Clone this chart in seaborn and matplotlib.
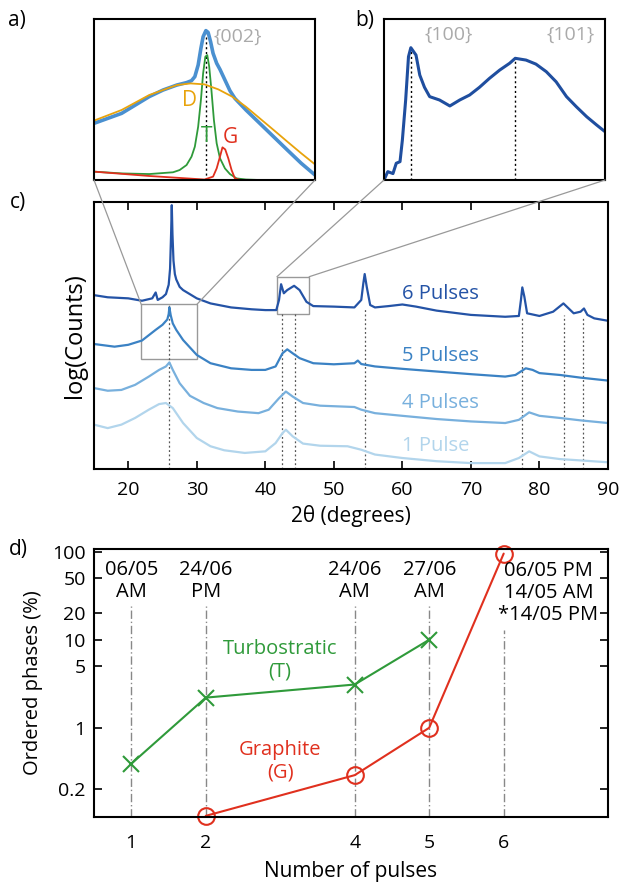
import pandas as pd
import seaborn as sns
import matplotlib.pyplot as plt
from matplotlib.patches import Rectangle, ConnectionPatch
from matplotlib.ticker import NullLocator, FixedLocator

# ==========================================================
# DATA
# ==========================================================

# c) XRD patterns, y in arbitrary offset log units (0..100)
p6_x = [15, 17, 20, 22, 23.5, 24, 24.3, 25, 25.5, 25.9, 26.1, 26.25, 26.35, 26.45, 26.6, 26.8,
        27, 27.5, 28, 30, 32, 35, 38, 40, 41.6, 42, 42.3, 42.7, 43.2, 44.2, 45, 46, 47, 50,
        53, 54, 54.3, 54.5, 54.8, 55.3, 56, 58, 60, 62, 65, 70, 75, 77, 77.3, 77.5, 77.8,
        78.2, 80, 82, 83.5, 85, 86, 86.5, 87, 88, 90]
p6_y = [65.1, 64.3, 63.9, 63.0, 63.9, 66.1, 63.3, 64.3, 65.5, 69.0, 75.0, 88.0, 98.8, 88.0,
        78.0, 73.0, 71.0, 68.2, 67.0, 63.9, 62.0, 60.5, 59.8, 59.5, 59.5, 63.3, 69.2, 65.8,
        67.0, 68.6, 67.0, 62.6, 61.0, 60.8, 60.5, 63.3, 69.5, 73.0, 68.2, 61.4, 60.5, 61.0,
        61.6, 60.8, 59.3, 57.7, 57.0, 57.3, 63.3, 68.0, 64.5, 58.3, 57.3, 58.9, 62.0, 58.3,
        58.9, 60.1, 57.7, 56.4, 55.5]

p5_x = [15, 18, 20, 22, 24, 25, 25.7, 25.9, 26, 26.2, 26.5, 27, 28, 30, 32, 35, 38, 40, 41.5,
        42.5, 43.2, 44, 45, 47, 50, 53, 53.5, 54, 56, 60, 65, 70, 75, 76.5, 78, 79, 80, 83,
        86, 90]
p5_y = [46.8, 45.8, 46.5, 48.1, 52.1, 54.0, 56.0, 58.0, 60.5, 57.5, 54.5, 52.1, 48.3, 42.7,
        39.6, 37.7, 37.1, 37.1, 38.4, 43.3, 44.8, 43.3, 41.5, 39.6, 39.2, 39.6, 40.6, 39.3,
        38.4, 37.5, 36.5, 35.5, 34.6, 35.2, 37.7, 37.1, 35.9, 35.2, 34.2, 33.1]

p4_x = [15, 17, 19, 21, 23, 24.5, 25.5, 26, 26.5, 27.5, 29, 31, 33, 36, 39, 40.5, 42, 43, 44,
        45.5, 48, 51, 53, 54, 56, 60, 65, 70, 75, 77, 78.5, 80, 83, 86, 90]
p4_y = [30.3, 29.3, 29.6, 31.5, 34.6, 37.1, 38.4, 39.9, 37.1, 32.1, 27.4, 24.7, 22.8, 21.5,
        20.9, 22.2, 26.5, 29.0, 27.1, 24.7, 23.7, 23.4, 23.2, 22.2, 20.9, 19.9, 18.7, 17.8,
        17.2, 18.4, 21.2, 19.9, 19.1, 18.2, 17.2]

p1_x = [15, 17, 19, 21, 23, 24.5, 25.5, 26.5, 28, 30, 32, 34, 37, 40, 41.5, 42.5, 43, 44, 45.5,
        48, 52, 54, 56, 60, 65, 70, 75, 77, 78.5, 80, 83, 86, 90]
p1_y = [16.6, 15.3, 16.6, 19.1, 22.2, 24.3, 24.7, 22.8, 17.2, 11.6, 8.5, 7.0, 6.0, 6.6, 9.7,
        13.4, 14.7, 12.2, 9.5, 8.7, 8.5, 7.2, 5.4, 4.1, 2.9, 2.2, 2.2, 4.1, 6.6, 4.7, 3.7,
        3.2, 2.5]

pulse_names = ["6 Pulses", "5 Pulses", "4 Pulses", "1 Pulse"]
pulse_label_y = [65.5, 42.3, 24.7, 8.5]
peak_pos = [26.0, 42.4, 44.3, 54.5, 77.4, 83.6, 86.4]
peak_top = [62.0, 58.3, 58.3, 60.1, 57.0, 57.7, 57.0]

# a) zoom of {002} with fitted components
a_x = [22, 23, 24, 24.5, 25, 25.35, 25.53, 25.65, 25.77, 25.87, 25.95, 26.05, 26.13, 26.22,
       26.31, 26.44, 26.56, 26.74, 26.92, 27.1, 27.5, 28, 28.5, 29, 29.5, 30]
a_y = [35.2, 41.4, 51.8, 55.9, 59.0, 60.5, 61.7, 64.2, 71.4, 81.8, 89.0, 92.8, 91.7, 85.9,
       78.7, 72.5, 68.7, 62.1, 55.5, 50.7, 43.5, 35.2, 26.9, 18.6, 10.4, 3.1]
d_x = [22, 23, 24, 25, 25.5, 26, 26.5, 27, 27.5, 28, 28.5, 29, 29.5, 30]
d_y = [36.9, 43.5, 52.8, 59.0, 60.0, 59.4, 56.3, 51.8, 45.5, 38.3, 31.1, 23.8, 16.6, 9.7]
t_x = [22, 23, 24, 24.86, 25.1, 25.35, 25.53, 25.65, 25.77, 25.87, 25.95, 26.03, 26.1, 26.17,
       26.25, 26.34, 26.44, 26.56, 26.74, 26.92, 27.16, 27.5, 28, 30]
t_y = [5.2, 4.1, 3.7, 4.8, 6.2, 9.3, 14.5, 20.7, 33.1, 49.7, 66.3, 76.6, 77.6, 70.4, 55.9,
       37.3, 22.8, 13.5, 7.2, 3.7, 1.0, 0.3, 0, 0]
g_x = [22, 24, 26, 26.31, 26.44, 26.56, 26.65, 26.75, 26.86, 26.98, 27.1, 27.3, 30]
g_y = [5.2, 2.5, 0.3, 2.1, 7.2, 14.5, 20.3, 19.0, 13.5, 6.2, 1.0, 0, 0]

# b) zoom of {100} / {101}
b_x = [41.70, 41.78, 41.89, 41.96, 42.04, 42.09, 42.16, 42.22, 42.27, 42.38, 42.46, 42.56,
       42.67, 42.88, 43.10, 43.31, 43.52, 43.73, 43.94, 44.16, 44.37, 44.49, 44.72, 44.93,
       45.15, 45.36, 45.58, 45.79, 46.01, 46.22, 46.40]
b_y = [0, 5.2, 4.0, 10.4, 11.4, 24.8, 49.7, 76.6, 82.2, 77.6, 65.2, 57.6, 51.8, 49.7, 46.0,
       49.7, 52.8, 57.6, 63.1, 68.3, 72.5, 75.6, 74.5, 72.0, 67.3, 61.0, 51.8, 45.5, 39.3,
       34.2, 30.0]

# d) ordered phases
turbo_pulses = [1, 2, 4, 5]
turbo_pct = [0.39, 2.2, 3.1, 10]
graph_pulses = [2, 4, 5, 6]
graph_pct = [0.1, 0.29, 1.0, 95]
date_x = [1, 2, 4, 5, 6]
date_top = [24, 24, 24, 24, 13]
date_labels = ["06/05\nAM", "24/06\nPM", "24/06\nAM", "27/06\nAM"]
date_last = "06/05 PM\n14/05 AM\n*14/05 PM"

PULSE_COLORS = {"6 Pulses": "#2453a6", "5 Pulses": "#3b82c4",
                "4 Pulses": "#78b0dd", "1 Pulse": "#b2d5ec"}
GREEN = "#2f9a3a"
RED = "#e0301e"
ORANGE = "#e8a30c"
GREY_TXT = "#aaaaaa"

# ==========================================================
# STYLE
# ==========================================================
sns.set_theme(style="white")
plt.rcParams["font.family"] = ["Open Sans", "DejaVu Sans"]
plt.rcParams["axes.edgecolor"] = "black"
plt.rcParams["axes.linewidth"] = 1.5
for key in ["text.color", "axes.labelcolor", "xtick.color", "ytick.color"]:
    plt.rcParams[key] = "black"

fig = plt.figure(figsize=(6.2, 8.85), dpi=100)
ax_a = fig.add_axes([0.1516, 0.7966, 0.3565, 0.1819])
ax_b = fig.add_axes([0.6194, 0.7966, 0.3565, 0.1819])
ax_c = fig.add_axes([0.1516, 0.4701, 0.829, 0.3017])
ax_d = fig.add_axes([0.1516, 0.0768, 0.829, 0.3028])

# ── c) XRD patterns ───────────────────────────────────────────────────────────
xrd = pd.concat([
    pd.DataFrame({"two_theta": xs, "counts": ys, "sample": nm})
    for nm, xs, ys in zip(pulse_names, [p6_x, p5_x, p4_x, p1_x], [p6_y, p5_y, p4_y, p1_y])
])
ax_c.vlines(peak_pos, 0, peak_top, colors="#555555", linestyles=(0, (1.5, 2)), lw=0.9)
sns.lineplot(data=xrd, x="two_theta", y="counts", hue="sample", palette=PULSE_COLORS,
             estimator=None, sort=False, legend=False, lw=1.6, ax=ax_c)
for nm, yy in zip(pulse_names, pulse_label_y):
    ax_c.text(60, yy, nm, color=PULSE_COLORS[nm], fontsize=14.5, va="center", ha="left")

ax_c.add_patch(Rectangle((21.9, 41.2), 8.1, 20.4, fill=False, ec="#999999", lw=1))
ax_c.add_patch(Rectangle((41.7, 57.9), 4.7, 14.1, fill=False, ec="#999999", lw=1))

ax_c.set_xlim(15, 90)
ax_c.set_ylim(0, 100)
ax_c.set_xticks(range(20, 91, 10))
ax_c.set_yticks([])
ax_c.tick_params(axis="x", direction="in", top=True, bottom=True, length=6, width=1.2,
                 labelsize=14, pad=9)
ax_c.set_xlabel("2θ (degrees)", fontsize=15)
ax_c.set_ylabel("log(Counts)", fontsize=17)
ax_c.xaxis.set_label_coords(0.5, -0.135)
ax_c.yaxis.set_label_coords(-0.014, 0.5)

# ── a) {002} zoom ─────────────────────────────────────────────────────────────
ax_a.vlines(26.07, 0, 91, colors="black", linestyles=(0, (1.5, 2)), lw=1)
sns.lineplot(x=t_x, y=t_y, color=GREEN, lw=1.3, ax=ax_a)
sns.lineplot(x=g_x, y=g_y, color=RED, lw=1.3, ax=ax_a)
sns.lineplot(x=a_x, y=a_y, color="#4a90d0", lw=2.6, ax=ax_a)
sns.lineplot(x=d_x, y=d_y, color=ORANGE, lw=1.3, ax=ax_a)
ax_a.text(27.2, 89, "{002}", color=GREY_TXT, fontsize=14, ha="center", va="center")
ax_a.text(25.47, 49.5, "D", color=ORANGE, fontsize=15, ha="center", va="center")
ax_a.text(26.07, 26.9, "T", color=GREEN, fontsize=15, ha="center", va="center")
ax_a.text(26.92, 26.3, "G", color=RED, fontsize=15, ha="center", va="center")
ax_a.set_xlim(22, 30)
ax_a.set_ylim(0, 100)

# ── b) {100}/{101} zoom ───────────────────────────────────────────────────────
ax_b.vlines([42.27, 44.49], 0, [82, 75], colors="black", linestyles=(0, (1.5, 2)), lw=1)
sns.lineplot(x=b_x, y=b_y, color="#1f4e9f", lw=2.2, ax=ax_b)
ax_b.text(43.07, 90, "{100}", color=GREY_TXT, fontsize=14, ha="center", va="center")
ax_b.text(45.67, 90, "{101}", color=GREY_TXT, fontsize=14, ha="center", va="center")
ax_b.set_xlim(41.7, 46.4)
ax_b.set_ylim(0, 100)

for ax in (ax_a, ax_b):
    ax.set_xticks([])
    ax.set_yticks([])
    ax.set_xlabel("")
    ax.set_ylabel("")

# connector lines between the zoom boxes and the insets
for ax_from, xy_from, xy_to in [(ax_a, (0, 0), (21.9, 61.6)), (ax_a, (1, 0), (30.0, 61.6)),
                                (ax_b, (0, 0), (41.7, 72.0)), (ax_b, (1, 0), (46.4, 72.0))]:
    con = ConnectionPatch(xyA=xy_from, coordsA="axes fraction", axesA=ax_from,
                          xyB=xy_to, coordsB="data", axesB=ax_c, color="#999999", lw=0.9)
    fig.add_artist(con)

# ── d) ordered phases ─────────────────────────────────────────────────────────
ax_d.set_yscale("log")
ax_d.vlines(date_x, 0.097, date_top, colors="#888888", linestyles=(0, (6, 2, 1, 2)), lw=1)
sns.lineplot(x=turbo_pulses, y=turbo_pct, color=GREEN, lw=1.5, marker="x", markersize=12,
             markeredgecolor=GREEN, markeredgewidth=1.5, ax=ax_d, clip_on=False)
sns.lineplot(x=graph_pulses, y=graph_pct, color=RED, lw=1.5, marker="o", markersize=12,
             markerfacecolor="none", markeredgecolor=RED, markeredgewidth=1.5, ax=ax_d,
             clip_on=False)
for xx, lab in zip(date_x[:4], date_labels):
    ax_d.text(xx, 46, lab, fontsize=14.5, ha="center", va="center", linespacing=1.15)
ax_d.text(6.6, 34, date_last, fontsize=14.5, ha="center", va="center", linespacing=1.15)
ax_d.text(3.0, 5.9, "Turbostratic\n(T)", color=GREEN, fontsize=14.5, ha="center",
          va="center", linespacing=1.15)
ax_d.text(3.0, 0.413, "Graphite\n(G)", color=RED, fontsize=14.5, ha="center",
          va="center", linespacing=1.15)

ax_d.set_xlim(0.5, 7.4)
ax_d.set_ylim(0.097, 107)
ax_d.set_xticks(date_x)
ax_d.set_xticklabels([str(v) for v in date_x])
ax_d.yaxis.set_major_locator(FixedLocator([0.2, 1, 5, 10, 20, 50, 100]))
ax_d.set_yticklabels(["0.2", "1", "5", "10", "20", "50", "100"])
ax_d.yaxis.set_minor_locator(NullLocator())
ax_d.tick_params(axis="y", direction="in", left=True, right=True, length=6, width=1.2,
                 labelsize=14, pad=6)
ax_d.tick_params(axis="x", length=0, labelsize=14, pad=12)
ax_d.set_xlabel("Number of pulses", fontsize=15)
ax_d.set_ylabel("Ordered phases (%)", fontsize=14.5)
ax_d.xaxis.set_label_coords(0.5, -0.163)
ax_d.yaxis.set_label_coords(-0.1, 0.5)

for lab, xx, yy in [("a)", 0.027, 0.977), ("b)", 0.589, 0.977),
                    ("c)", 0.029, 0.771), ("d)", 0.029, 0.379)]:
    fig.text(xx, yy, lab, fontsize=15, ha="center", va="center")

fig.savefig("out.png", dpi=100, facecolor="white")
